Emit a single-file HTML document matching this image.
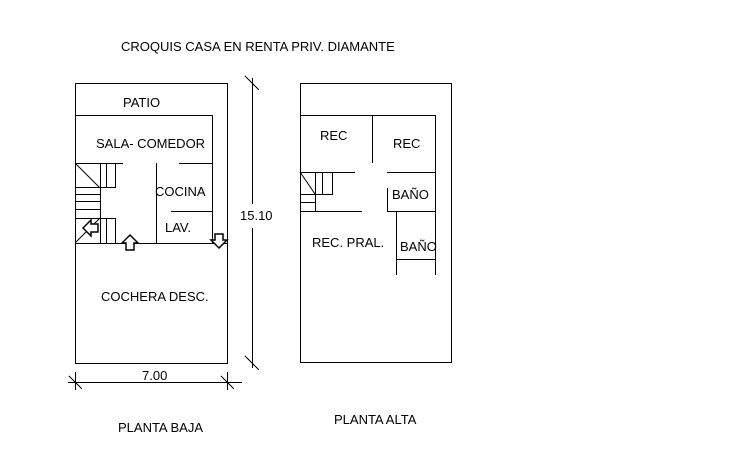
<!DOCTYPE html>
<html><head><style>
body{margin:0;background:#fff;}
svg{display:block;}
text{font-family:"Liberation Sans",Arial,sans-serif;font-size:13px;fill:#000;}
</style></head><body>
<svg width="730" height="450" viewBox="0 0 730 450" xmlns="http://www.w3.org/2000/svg">
<g stroke="#000" stroke-width="1" fill="none" shape-rendering="crispEdges">
<rect x="75.5" y="83.5" width="152" height="280"/>
<line x1="75" y1="115.5" x2="212" y2="115.5"/>
<line x1="212.5" y1="115" x2="212.5" y2="243"/>
<line x1="75" y1="243.5" x2="228" y2="243.5"/>
<line x1="75" y1="163.5" x2="123" y2="163.5"/>
<line x1="100.5" y1="163" x2="100.5" y2="243"/>
<line x1="106.5" y1="163" x2="106.5" y2="188"/>
<line x1="115.5" y1="163" x2="115.5" y2="188"/>
<line x1="100" y1="187.5" x2="115" y2="187.5"/>
<line x1="75" y1="187.5" x2="100" y2="187.5"/>
<line x1="75" y1="194.5" x2="100" y2="194.5"/>
<line x1="75" y1="201.5" x2="100" y2="201.5"/>
<line x1="75" y1="209.5" x2="100" y2="209.5"/>
<line x1="75" y1="218.5" x2="115" y2="218.5"/>
<line x1="106.5" y1="218" x2="106.5" y2="243"/>
<line x1="115.5" y1="218" x2="115.5" y2="243"/>
<line x1="156.5" y1="163" x2="156.5" y2="243"/>
<line x1="179" y1="163.5" x2="212" y2="163.5"/>
<line x1="171" y1="211.5" x2="212" y2="211.5"/>
<line x1="252.5" y1="78" x2="252.5" y2="204"/>
<line x1="252.5" y1="228" x2="252.5" y2="368"/>
<line x1="245" y1="76" x2="259" y2="90"/>
<line x1="245" y1="356" x2="259" y2="370"/>
<line x1="68" y1="382.5" x2="242" y2="382.5"/>
<line x1="75.5" y1="372" x2="75.5" y2="390"/>
<line x1="227.5" y1="372" x2="227.5" y2="390"/>
<line x1="69" y1="376" x2="82" y2="389"/>
<line x1="221" y1="376" x2="234" y2="389"/>
<rect x="300.5" y="83.5" width="151" height="279"/>
<line x1="300" y1="115.5" x2="435" y2="115.5"/>
<line x1="435.5" y1="115" x2="435.5" y2="275"/>
<line x1="372.5" y1="115" x2="372.5" y2="163"/>
<line x1="300" y1="172.5" x2="355" y2="172.5"/>
<line x1="387" y1="172.5" x2="435" y2="172.5"/>
<line x1="387.5" y1="188" x2="387.5" y2="211"/>
<line x1="300" y1="211.5" x2="362" y2="211.5"/>
<line x1="387" y1="211.5" x2="435" y2="211.5"/>
<line x1="396.5" y1="211" x2="396.5" y2="275"/>
<line x1="396" y1="259.5" x2="435" y2="259.5"/>
<line x1="315.5" y1="172" x2="315.5" y2="211"/>
<line x1="322.5" y1="172" x2="322.5" y2="195"/>
<line x1="332.5" y1="172" x2="332.5" y2="195"/>
<line x1="315" y1="194.5" x2="332" y2="194.5"/>
<line x1="300" y1="194.5" x2="315" y2="194.5"/>
<line x1="300" y1="202.5" x2="315" y2="202.5"/>
</g>
<g stroke="#000" stroke-width="1" fill="none">
<line x1="75" y1="163" x2="100" y2="188"/>
<line x1="75" y1="243" x2="100" y2="218"/>
<line x1="300" y1="172" x2="315" y2="194"/>
<polygon points="83,228 91,220 91,224 98,224 98,232 91,232 91,236" fill="#fff" stroke-width="1.5"/>
<polygon points="130,235 138,243 134,243 134,250 126,250 126,243 122,243" fill="#fff" stroke-width="1.5"/>
<polygon points="219,248 227,240 223,240 223,234 215,234 215,240 211,240" fill="#fff" stroke-width="1.5"/>
</g>
<text x="121" y="51">CROQUIS CASA EN RENTA PRIV. DIAMANTE</text>
<text x="123" y="107">PATIO</text>
<text x="96" y="148">SALA- COMEDOR</text>
<text x="155" y="196">COCINA</text>
<text x="165" y="232">LAV.</text>
<text x="101" y="301">COCHERA DESC.</text>
<text x="240" y="220">15.10</text>
<text x="142" y="380">7.00</text>
<text x="118" y="432">PLANTA BAJA</text>
<text x="334" y="424">PLANTA ALTA</text>
<text x="320" y="140">REC</text>
<text x="393" y="148">REC</text>
<text x="392" y="199">BAÑO</text>
<text x="312" y="247">REC. PRAL.</text>
<text x="400" y="251">BAÑO</text>
</svg>
</body></html>
